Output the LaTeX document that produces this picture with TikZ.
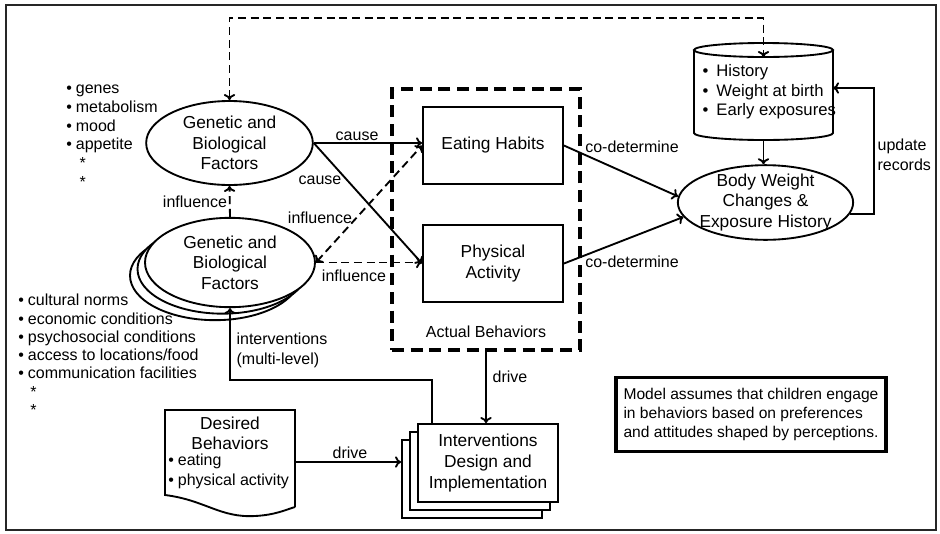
\documentclass[tikz,border=0pt]{standalone}
\usepackage{fontspec}
\setmainfont{Liberation Sans}
\usepackage{tikz}
\usetikzlibrary{shapes.geometric, arrows.meta, positioning}
\tikzstyle{oval}=[draw, shape=ellipse, line width=1.4pt, fill=white, align=center, inner sep=-3pt, font=\fontsize{13}{15.5}\selectfont]
\tikzstyle{box}=[draw, shape=rectangle, line width=1.4pt, fill=white, align=center, minimum width=105pt, font=\fontsize{13}{15.5}\selectfont]
\tikzstyle{lbl}=[inner sep=1pt, font=\fontsize{12}{15}\selectfont]
\tikzstyle{blist}=[inner sep=0pt, align=left, anchor=north west, font=\fontsize{12}{14}\selectfont]
\tikzstyle{link}=[->, line width=1.4pt]
\tikzstyle{dlink}=[->, line width=1.4pt, dash pattern=on 6pt off 3.5pt]
\tikzset{>={To[length=4.5pt,width=8.5pt]}}

\begin{document}
\begin{tikzpicture}[x=0.75pt, y=-0.75pt]
\useasboundingbox (0,0) rectangle (940,533);
\draw[line width=1.8pt, black!85] (6,5) rectangle (936,530);
%
\node[blist] (biolist) at (66,85) {•\hspace{3pt}genes\\ •\hspace{3pt}metabolism\\ •\hspace{3pt}mood\\ •\hspace{3pt}appetite\\ \hspace*{10pt}*\\ \hspace*{10pt}*};
\node[blist, font=\fontsize{12}{13.7}\selectfont] (envlist) at (18,294) {•\hspace{3pt}cultural norms\\ •\hspace{3pt}economic conditions\\ •\hspace{3pt}psychosocial conditions\\ •\hspace{3pt}access to locations/food\\ •\hspace{3pt}communication facilities\\ \hspace*{9pt}*\\ \hspace*{9pt}*};
%
\node[oval, minimum width=125pt, minimum height=63pt] (gen) at (229.5,143) {Genetic and\\Biological\\Factors};
\foreach \k in {2,1}
{
\node[oval, minimum width=127.5pt, minimum height=67pt] (env\k) at ({230-7.5*\k},{262.5+6.5*\k}) {};
}
\node[oval, minimum width=127.5pt, minimum height=67pt] (env) at (230,262.5) {Genetic and\\Biological\\Factors};
%
\node[draw, line width=2.3pt, dash pattern=on 9pt off 5pt, minimum width=141pt, minimum height=195.75pt] (act) at (486,219.5) {};
\node[box, minimum height=57.75pt] (eat) at (493,145.5) {Eating Habits};
\node[box, minimum height=57.75pt] (phys) at (493,263.5) {Physical\\Activity};
\node[lbl] (actlbl) at (486,332) {Actual Behaviors};
%
\draw[line width=1.4pt, fill=white] (694,50) -- (694,133) arc[start angle=180, end angle=0, x radius=69.5, y radius=7] -- (833,50);
\draw[line width=1.4pt] (763.5,50) ellipse [x radius=69.5, y radius=7];
\node[lbl, align=left, anchor=west, font=\fontsize{12.5}{14.5}\selectfont] (hist) at (701,92) {•\hspace{6pt}History\\ •\hspace{6pt}Weight at birth\\ •\hspace{6pt}Early exposures};
\coordinate (histtop) at (763.5,57);
\coordinate (histbot) at (763.5,140);
\coordinate (histr) at (833,88);
\node[oval, minimum width=125pt, minimum height=56pt] (body) at (765.5,202.5) {Body Weight\\Changes \&\\Exposure History};
%
\draw[line width=1.4pt, fill=white] (295,507) -- (295,410) -- (165,410) -- (165,495) .. controls (205,500) and (220,518) .. (255,516) .. controls (275,515) and (285,510) .. (295,507);
\node[lbl, align=center, font=\fontsize{13}{15}\selectfont] (des) at (230,433) {Desired\\Behaviors};
\node[blist, font=\fontsize{12}{14.5}\selectfont] (deslist) at (168,454) {•\hspace{3pt}eating\\ •\hspace{3pt}physical activity};
\coordinate (desr) at (295,462);
%
\foreach \k in {2,1}
{
\node[box, minimum height=58.5pt] (intv\k) at ({488-8*\k},{463+8*\k}) {};
}
\node[box, minimum height=58.5pt] (intv) at (488,463) {Interventions\\Design and\\Implementation};
%
\node[draw, line width=2.4pt, align=left, minimum width=202.5pt, minimum height=55pt, font=\fontsize{11.7}{14.3}\selectfont] (model) at (751,414.5) {Model assumes that children engage\\in behaviors based on preferences\\and attitudes shaped by perceptions.};
%
\draw[dlink, <->] (gen.north) -- ++(0,-82) -| (histtop);
\draw[link] (gen.east) -- (gen.east -| eat.west) node[lbl, pos=0.4, above] (lcause1) {cause};
\draw[link] (gen.east) -- (phys.west);
\node[lbl] (lcause2) at (320,180) {cause};
\draw[dlink, <->] (env.east) -- (eat.west);
\node[lbl] (linfl1) at (320,218) {influence};
\draw[dlink] (env.east) -- (env.east -| phys.west);
\node[lbl] (linfl2) at (354,276) {influence};
\draw[dlink] (env.north) -- (gen.south);
\node[lbl] (linfl3) at (195,202) {influence};
%
\draw[link] (eat.east) -- (body.176);
\node[lbl] (lcodet1) at (632,147) {co-determine};
\draw[link] (phys.east) -- (body.190);
\node[lbl] (lcodet2) at (632,262) {co-determine};
\draw[link] (histbot) -- (histbot |- body.north);
\draw[link] (body.-8) -- ++(24,0) |- (histr);
\node[lbl, align=left, anchor=west] (lupdate) at (876,155) {update\\records};
%
\draw[link] (act.south) -- (act.south |- intv.north);
\node[lbl] (ldrive1) at (510,377) {drive};
\draw[link] ([xshift=-42pt]intv.north) -- ++(0,-43) -| (env.south);
\node[lbl, align=left, anchor=west] (linterv) at (235,350) {interventions\\(multi-level)};
\draw[link] (desr) -- (desr -| intv2.west);
\node[lbl] (ldrive2) at (350,453) {drive};
%
\end{tikzpicture}
\end{document}
